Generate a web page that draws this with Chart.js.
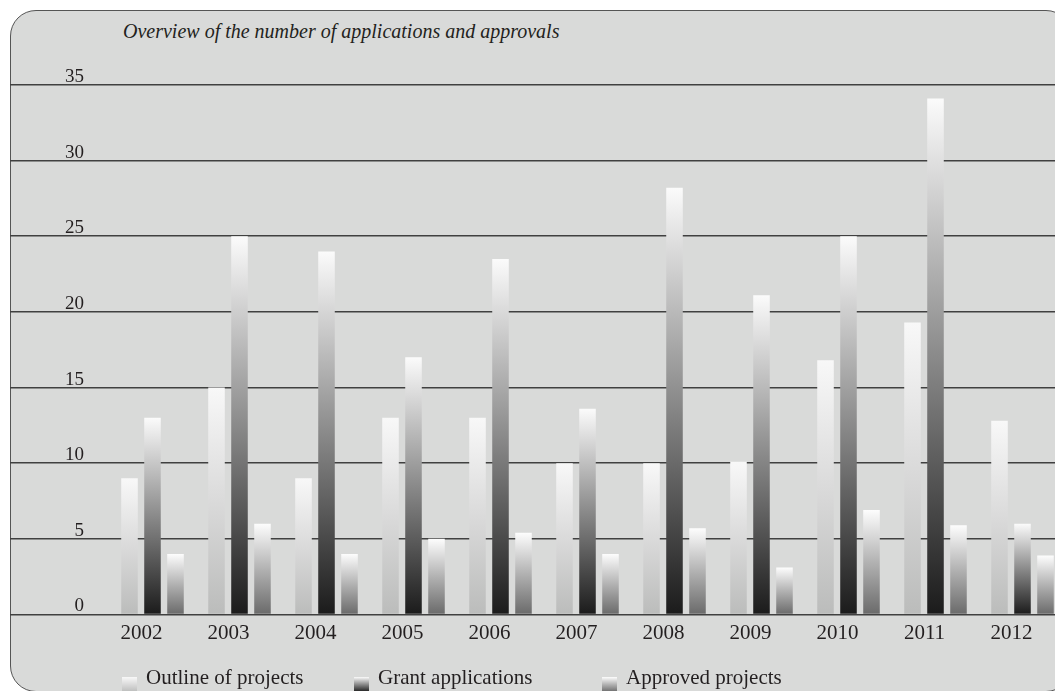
<!DOCTYPE html>
<html>
<head>
<meta charset="utf-8">
<script src="https://cdn.jsdelivr.net/npm/chart.js@4"></script>
<style>
  html, body { margin: 0; padding: 0; background: #fff; overflow: hidden; }
  body { width: 1055px; height: 691px; position: relative; font-family: 'Liberation Serif', serif; color: #231f20; }
  #panel {
    position: absolute; left: 10px; top: 10px; width: 1060px; height: 680px;
    background: #d9dad9; border: 1.5px solid #555; border-radius: 26px;
  }
  #title {
    position: absolute; left: 123px; top: 19px; font-style: italic; font-size: 20px;
    line-height: 24px; white-space: nowrap;
  }
  #chartBox { position: absolute; left: 0; top: 0; width: 1070px; height: 691px; }
  .legend-item { position: absolute; top: 666px; height: 22px; font-size: 21px; line-height: 22px; white-space: nowrap; }
  .legend-item .box { position: absolute; left: 0; top: 11px; width: 15px; height: 15px; }
  .legend-item .txt { position: absolute; left: 24px; top: 0; }
</style>
</head>
<body>
<div id="panel"></div>
<div id="title">Overview of the number of applications and approvals</div>
<div id="chartBox"><canvas id="grantChart" width="1070" height="691"></canvas></div>
<div id="legend"></div>
<script>
const years = ['2002', '2003', '2004', '2005', '2006', '2007', '2008', '2009', '2010', '2011', '2012'];
const outlineProjects = [9, 15, 9, 13, 13, 10, 10, 10.1, 16.8, 19.3, 12.8];
const grantApplications = [13, 25, 24, 17, 23.5, 13.6, 28.2, 21.1, 25, 34.1, 6];
const approvedProjects = [4, 6, 4, 5, 5.4, 4, 5.7, 3.1, 6.9, 5.9, 3.9];
const yTicks = [0, 5, 10, 15, 20, 25, 30, 35];

const seriesNames = ['Outline of projects', 'Grant applications', 'Approved projects'];
const seriesStops = [
    ['#f8f8f8', '#dadada', '#bbbcbb'],
    ['#fbfbfb', '#8a8a8a', '#1b1b1b'],
    ['#fdfdfd', '#b2b2b2', '#6a6a6a']
];
const legendX = [122, 354, 602];

Chart.defaults.font.family = "'Liberation Serif', serif";
Chart.defaults.color = '#231f20';

// each bar gets its own top-to-bottom gradient
function barGradient(stops) {
    return function (ctx) {
        const chart = ctx.chart;
        if (!chart.chartArea || ctx.type !== 'data') return stops[1];
        const y = chart.scales.y;
        const top = y.getPixelForValue(ctx.parsed.y);
        const bottom = y.getPixelForValue(0);
        const g = chart.ctx.createLinearGradient(0, top, 0, bottom);
        stops.forEach((c, i) => g.addColorStop(i / (stops.length - 1), c));
        return g;
    };
}

function makeDataset(i, data) {
    return {
        label: seriesNames[i],
        data: data,
        backgroundColor: barGradient(seriesStops[i]),
        borderWidth: 0,
        barPercentage: 0.72,
        categoryPercentage: 0.793
    };
}

const ctx = document.getElementById('grantChart').getContext('2d');
const grantChart = new Chart(ctx, {
    type: 'bar',
    data: {
        labels: years,
        datasets: [
            makeDataset(0, outlineProjects),
            makeDataset(1, grantApplications),
            makeDataset(2, approvedProjects)
        ]
    },
    options: {
        responsive: false,
        animation: false,
        devicePixelRatio: 1,
        layout: { padding: { left: 10, right: 4, top: 85, bottom: 0 } },
        plugins: {
            legend: { display: false },
            title: { display: false },
            tooltip: { enabled: false }
        },
        scales: {
            x: {
                grid: { display: false, drawTicks: false },
                border: { display: false },
                ticks: { font: { size: 21 }, padding: 6, labelOffset: -11, maxRotation: 0 },
                afterFit: function (scale) { scale.height = 76.5; }
            },
            y: {
                min: 0,
                max: 35,
                afterBuildTicks: function (scale) {
                    scale.ticks = yTicks.map(v => ({ value: v }));
                },
                grid: { color: '#404040', lineWidth: 1.6, drawTicks: true, tickLength: 99 },
                border: { display: false },
                ticks: { font: { size: 19 }, padding: -74, labelOffset: -8, crossAlign: 'near' },
                afterFit: function (scale) { scale.width = 99; }
            }
        }
    }
});

// legend row under the axis, built from the datasets
const legendEl = document.getElementById('legend');
grantChart.data.datasets.forEach((ds, i) => {
    const item = document.createElement('div');
    item.className = 'legend-item';
    item.style.left = legendX[i] + 'px';
    const box = document.createElement('div');
    box.className = 'box';
    box.style.background = 'linear-gradient(to bottom, ' + seriesStops[i].join(', ') + ')';
    const txt = document.createElement('span');
    txt.className = 'txt';
    txt.textContent = ds.label;
    item.appendChild(box);
    item.appendChild(txt);
    legendEl.appendChild(item);
});
</script>
</body>
</html>
